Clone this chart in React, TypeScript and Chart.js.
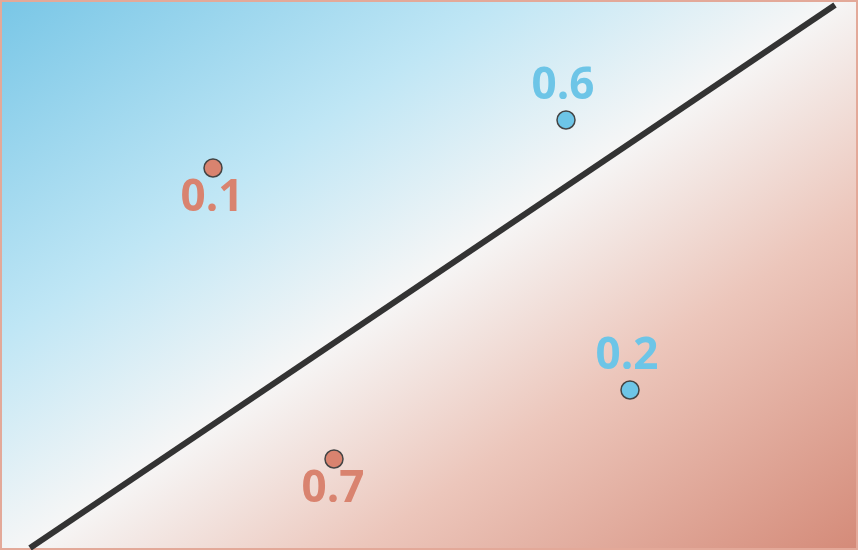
import { useEffect, useRef } from 'react';
import { Chart, registerables } from 'chart.js';

Chart.register(...registerables);

// boundary line endpoints (data units = pixels of the 858x550 plane)
const boundaryX = [30, 835];
const boundaryY = [2, 545];

const redPointsX = [213, 334];
const redPointsY = [382, 91];
const redLabels = ['0.1', '0.7'];

const bluePointsX = [566, 630];
const bluePointsY = [430, 160];
const blueLabels = ['0.6', '0.2'];

const RED = '#d9836f';
const BLUE = '#6dc5e7';

const bgPlugin = {
  id: 'bg',
  beforeDraw(chart) {
    const { ctx, width, height } = chart;
    const cx = width / 2;
    const cy = height / 2;
    const nx = 0.559, ny = 0.829, k = 470;
    const g = ctx.createLinearGradient(cx - nx * k, cy - ny * k, cx + nx * k, cy + ny * k);
    g.addColorStop(0, '#78c6e6');
    g.addColorStop(0.3, '#bfe6f5');
    g.addColorStop(0.5, '#f6f6f6');
    g.addColorStop(0.7, '#ecc6bb');
    g.addColorStop(1, '#d48a78');
    ctx.save();
    ctx.fillStyle = g;
    ctx.fillRect(0, 0, width, height);
    ctx.strokeStyle = '#e3a999';
    ctx.lineWidth = 2;
    ctx.strokeRect(1, 1, width - 2, height - 2);
    ctx.restore();
  },
};

const labelPlugin = {
  id: 'labels',
  afterDatasetsDraw(chart) {
    const { ctx } = chart;
    ctx.save();
    ctx.font = 'bold 44px "Open Sans"';
    ctx.textAlign = 'center';
    chart.data.datasets.forEach((ds, i) => {
      if (!ds.labelsText) return;
      chart.getDatasetMeta(i).data.forEach((pt, j) => {
        ctx.fillStyle = ds.labelColor;
        if (ds.labelBelow) {
          ctx.textBaseline = 'top';
          ctx.fillText(ds.labelsText[j], pt.x - 1, pt.y + 8);
        } else {
          ctx.textBaseline = 'bottom';
          ctx.fillText(ds.labelsText[j], pt.x - 3, pt.y - 12);
        }
      });
    });
    ctx.restore();
  },
};

export default function App() {
  const chartRef = useRef(null);

  useEffect(() => {
    document.body.style.margin = '0';
    const chart = new Chart(chartRef.current.getContext('2d'), {
      type: 'scatter',
      data: {
        datasets: [
          {
            type: 'line',
            data: boundaryX.map((x, i) => ({ x, y: boundaryY[i] })),
            borderColor: '#333333',
            borderWidth: 6,
            pointRadius: 0,
            clip: false,
          },
          {
            data: redPointsX.map((x, i) => ({ x, y: redPointsY[i] })),
            backgroundColor: RED,
            borderColor: '#444',
            borderWidth: 1.5,
            pointRadius: 9,
            labelsText: redLabels,
            labelColor: RED,
            labelBelow: true,
          },
          {
            data: bluePointsX.map((x, i) => ({ x, y: bluePointsY[i] })),
            backgroundColor: BLUE,
            borderColor: '#444',
            borderWidth: 1.5,
            pointRadius: 9,
            labelsText: blueLabels,
            labelColor: BLUE,
            labelBelow: false,
          },
        ],
      },
      options: {
        animation: false,
        responsive: false,
        layout: { padding: 0, autoPadding: false },
        plugins: { legend: { display: false }, tooltip: { enabled: false } },
        scales: {
          x: { type: 'linear', min: 0, max: 858, display: false },
          y: { type: 'linear', min: 0, max: 550, display: false },
        },
      },
      plugins: [bgPlugin, labelPlugin],
    });
    return () => chart.destroy();
  }, []);

  return <canvas ref={chartRef} width={858} height={550}></canvas>;
}
